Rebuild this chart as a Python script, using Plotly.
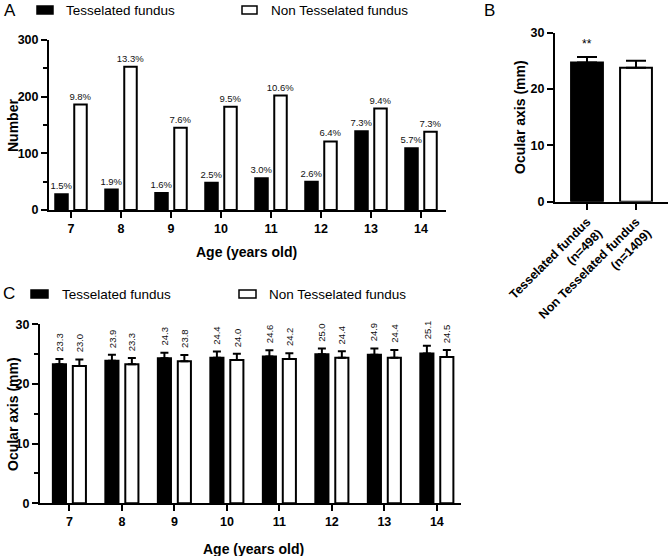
import plotly.graph_objects as go

W, H = 669, 556

# ---------------- data ----------------
ages = [7, 8, 9, 10, 11, 12, 13, 14]
age_labels = ["7", "8", "9", "10", "11", "12", "13", "14"]

# Panel A: counts
count_tess = [28, 36, 30, 48, 56, 50, 139, 109]
count_non = [186, 253, 145, 182, 202, 121, 179, 138]
pct_tess = ["1.5%", "1.9%", "1.6%", "2.5%", "3.0%", "2.6%", "7.3%", "5.7%"]
pct_non = ["9.8%", "13.3%", "7.6%", "9.5%", "10.6%", "6.4%", "9.4%", "7.3%"]

# Panel B: overall ocular axis
groups_b = ["Tesselated fundus<br>(n=498)", "Non Tesselated fundus<br>(n=1409)"]
axis_b = [24.7, 23.8]
err_b = [1.0, 1.2]
sig_b = "**"

# Panel C: ocular axis by age
axis_tess = [23.3, 23.9, 24.3, 24.4, 24.6, 25.0, 24.9, 25.1]
axis_non = [23.0, 23.3, 23.8, 24.0, 24.2, 24.4, 24.4, 24.5]
err_tess = [0.9, 1.0, 0.95, 1.05, 1.05, 0.95, 1.05, 1.3]
err_non = [1.1, 1.05, 1.05, 1.05, 0.95, 1.1, 1.3, 1.2]

legend_names = ["Tesselated fundus", "Non Tesselated fundus"]

# ---------------- helpers ----------------
def px(x):
    return x / W

def py(y):
    return 1 - y / H

FONT = "Liberation Sans"
BW = 0.25
OFF = 0.19

fig = go.Figure()

# Panel A bars
fig.add_trace(go.Bar(
    x=ages, y=count_tess, text=pct_tess, textposition="outside", constraintext="none",
    textfont=dict(family=FONT, size=9.5, color="#111"), cliponaxis=False,
    marker=dict(color="black", line=dict(color="black", width=2)),
    width=BW, offset=-OFF - BW / 2, xaxis="x", yaxis="y", showlegend=False))
fig.add_trace(go.Bar(
    x=ages, y=count_non, text=pct_non, textposition="outside", constraintext="none",
    textfont=dict(family=FONT, size=9.5, color="#111"), cliponaxis=False,
    marker=dict(color="white", line=dict(color="black", width=2)),
    width=BW, offset=OFF - BW / 2, xaxis="x", yaxis="y", showlegend=False))

# Panel B bars
fig.add_trace(go.Bar(
    x=[groups_b[0]], y=[axis_b[0]],
    error_y=dict(type="data", array=[err_b[0]], arrayminus=[0], symmetric=False,
                 color="black", thickness=2, width=10),
    marker=dict(color="black", line=dict(color="black", width=2)),
    width=0.65, xaxis="x2", yaxis="y2", showlegend=False))
fig.add_trace(go.Bar(
    x=[groups_b[1]], y=[axis_b[1]],
    error_y=dict(type="data", array=[err_b[1]], arrayminus=[0], symmetric=False,
                 color="black", thickness=2, width=10),
    marker=dict(color="white", line=dict(color="black", width=2)),
    width=0.65, xaxis="x2", yaxis="y2", showlegend=False))

# Panel C bars
fig.add_trace(go.Bar(
    x=ages, y=axis_tess,
    error_y=dict(type="data", array=err_tess, arrayminus=[0] * 8, symmetric=False,
                 color="black", thickness=2, width=4),
    marker=dict(color="black", line=dict(color="black", width=2)),
    width=BW, offset=-OFF - BW / 2, xaxis="x3", yaxis="y3", showlegend=False))
fig.add_trace(go.Bar(
    x=ages, y=axis_non,
    error_y=dict(type="data", array=err_non, arrayminus=[0] * 8, symmetric=False,
                 color="black", thickness=2, width=4),
    marker=dict(color="white", line=dict(color="black", width=2)),
    width=BW, offset=OFF - BW / 2, xaxis="x3", yaxis="y3", showlegend=False))

tickfont = dict(family=FONT, size=12.5, color="black", weight="bold")
common = dict(showline=True, linewidth=2, linecolor="black", ticks="outside",
              ticklen=6, tickwidth=2, tickcolor="black", showgrid=False,
              zeroline=False, tickfont=tickfont, automargin=False)

annotations = []
shapes = []

# C value labels
for a, v, e in zip(ages, axis_tess, err_tess):
    annotations.append(dict(x=a - OFF, y=v + e, xref="x3", yref="y3", text=f"{v:.1f}",
                            textangle=-90, showarrow=False, xanchor="center",
                            yanchor="bottom", yshift=5,
                            font=dict(family=FONT, size=9.5, color="#111")))
for a, v, e in zip(ages, axis_non, err_non):
    annotations.append(dict(x=a + OFF, y=v + e, xref="x3", yref="y3", text=f"{v:.1f}",
                            textangle=-90, showarrow=False, xanchor="center",
                            yanchor="bottom", yshift=5,
                            font=dict(family=FONT, size=9.5, color="#111")))

# B significance
annotations.append(dict(x=groups_b[0], y=axis_b[0] + err_b[0], xref="x2", yref="y2",
                        text=sig_b, showarrow=False, xanchor="center", yanchor="bottom",
                        yshift=4, font=dict(family=FONT, size=12, color="black")))

# Panel letters
for letter, x, y in [("A", 2, 11), ("B", 482, 11), ("C", 1, 293)]:
    annotations.append(dict(x=px(x), y=py(y), xref="paper", yref="paper", text=letter,
                            showarrow=False, xanchor="left", yanchor="middle",
                            font=dict(family=FONT, size=17, color="black")))

# Axis titles
title_font = dict(family=FONT, size=14, color="black", weight="bold")
for text, x, y, ang in [
    ("Number", 13, 125, -90),
    ("Age (years old)", 247, 252, 0),
    ("Ocular axis (mm)", 520, 117, -90),
    ("Ocular axis (mm)", 13, 414, -90),
    ("Age (years old)", 253, 549, 0),
]:
    annotations.append(dict(x=px(x), y=py(y), xref="paper", yref="paper", text=text,
                            textangle=ang, showarrow=False, xanchor="center",
                            yanchor="middle", font=title_font))

# Legends (drawn as shapes + text)
leg_font = dict(family=FONT, size=13.5, color="black")
for (x0, y0, x1, y1, fill, tx, label) in [
    (37, 6, 53, 14, "black", 64, legend_names[0]),
    (242, 6, 257, 14, "white", 269, legend_names[1]),
    (31, 290, 48, 298, "black", 60, legend_names[0]),
    (239, 290, 256, 298, "white", 267, legend_names[1]),
]:
    shapes.append(dict(type="rect", xref="paper", yref="paper",
                       x0=px(x0), x1=px(x1), y0=py(y1), y1=py(y0),
                       fillcolor=fill, line=dict(color="black", width=1.5)))
    annotations.append(dict(x=px(tx), y=py((y0 + y1) / 2), xref="paper", yref="paper",
                            text=label, showarrow=False, xanchor="left", yanchor="middle",
                            font=leg_font))

fig.update_layout(
    width=W, height=H, margin=dict(l=0, r=0, t=0, b=0, autoexpand=False),
    paper_bgcolor="white", plot_bgcolor="white",
    barmode="overlay", font=dict(family=FONT, color="black"),
    xaxis=dict(domain=[px(49), px(446)], range=[6.56, 14.5], tickvals=ages,
               ticktext=age_labels, anchor="y", **common),
    yaxis=dict(domain=[py(210), py(40)], range=[0, 300], tickvals=[0, 100, 200, 300],
               minor=dict(tickvals=[50, 150, 250], ticks="outside", ticklen=4,
                          tickwidth=2, tickcolor="black"),
               anchor="x", **common),
    xaxis2=dict(domain=[px(555), px(668)], range=[-0.653, 1.653], type="category",
                tickangle=-45, anchor="y2", **common),
    yaxis2=dict(domain=[py(201.7), py(32.7)], range=[0, 30], tickvals=[0, 10, 20, 30],
                anchor="x2", **common),
    xaxis3=dict(domain=[px(40), px(461)], range=[6.44, 14.46], tickvals=ages,
                ticktext=age_labels, anchor="y3", **common),
    yaxis3=dict(domain=[py(503.3), py(324.3)], range=[0, 30], tickvals=[0, 10, 20, 30],
                minor=dict(tickvals=[5, 15, 25], ticks="outside", ticklen=4,
                           tickwidth=2, tickcolor="black"),
                anchor="x3", **common),
    annotations=annotations, shapes=shapes,
)

fig.write_html("out.html", config={"displayModeBar": False},
               post_script="document.body.style.margin='0';")
